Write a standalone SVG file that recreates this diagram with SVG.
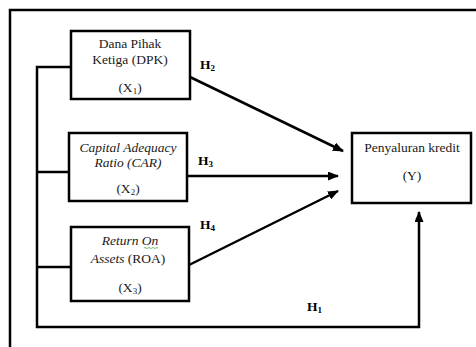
<svg xmlns="http://www.w3.org/2000/svg" width="476" height="347" viewBox="0 0 476 347">
<defs>
<style>
.box{fill:#fff;stroke:#000;stroke-width:2.5}
.ln{fill:none;stroke:#000;stroke-width:2.5}
.t{font-family:"Liberation Serif","Times New Roman",serif;font-size:13.5px;fill:#1a1a1a;text-anchor:middle}
.h{font-family:"Liberation Serif","Times New Roman",serif;font-size:13.5px;font-weight:bold;fill:#000}
.i{font-style:italic}
.sub{font-size:9px}
</style>
<marker id="ah" markerWidth="11" markerHeight="9" refX="10" refY="4.5" orient="auto" markerUnits="userSpaceOnUse">
<path d="M0,0 L11,4.5 L0,9 Z" fill="#000"/>
</marker>
</defs>
<rect width="476" height="347" fill="#fff"/>
<g id="connectors">
<path class="ln" d="M10,347 V10 H476"/>
<path class="ln" d="M71,67 H37 V327 H419 V212" marker-end="url(#ah)"/>
<path class="ln" d="M37,172 H69"/>
<path class="ln" d="M37,267 H71"/>
<path class="ln" d="M190,77 L343,151" marker-end="url(#ah)"/>
<path class="ln" d="M187,176 L338,176" marker-end="url(#ah)"/>
<path class="ln" d="M189,265 L338,191" marker-end="url(#ah)"/>
<text class="h" x="200" y="69">H<tspan class="sub" dy="2">2</tspan></text>
<text class="h" x="198" y="165">H<tspan class="sub" dy="2">3</tspan></text>
<text class="h" x="200" y="229">H<tspan class="sub" dy="2">4</tspan></text>
<text class="h" x="307" y="311">H<tspan class="sub" dy="2">1</tspan></text>
</g>
<g id="dpk">
<rect class="box" x="71" y="31" width="119" height="68"/>
<text class="t" x="130" y="48">Dana Pihak</text>
<text class="t" x="130" y="64">Ketiga (DPK)</text>
<text class="t" x="130" y="92">(X<tspan class="sub" dy="2">1</tspan><tspan dy="-2">)</tspan></text>
</g>
<g id="car">
<rect class="box" x="69" y="133" width="118" height="68"/>
<text class="t i" x="128" y="152">Capital Adequacy</text>
<text class="t i" x="128" y="167">Ratio (CAR)</text>
<text class="t" x="128" y="193">(X<tspan class="sub" dy="2">2</tspan><tspan dy="-2">)</tspan></text>
</g>
<g id="roa">
<rect class="box" x="71" y="227" width="118" height="74"/>
<text class="t i" x="130" y="245">Return On</text>
<path d="M144,248 q1,-1 2,0 t2,0 t2,0 t2,0 t2,0 t2,0 t2,0" fill="none" stroke="#4caf50" stroke-width="0.8"/>
<text class="t" x="128" y="263"><tspan class="i">Assets</tspan> (ROA)</text>
<text class="t" x="130" y="292">(X<tspan class="sub" dy="2">3</tspan><tspan dy="-2">)</tspan></text>
</g>
<g id="penyaluran">
<rect class="box" x="352" y="133" width="119" height="70"/>
<text class="t" x="412" y="152">Penyaluran kredit</text>
<text class="t" x="412" y="180">(Y)</text>
</g>
</svg>
